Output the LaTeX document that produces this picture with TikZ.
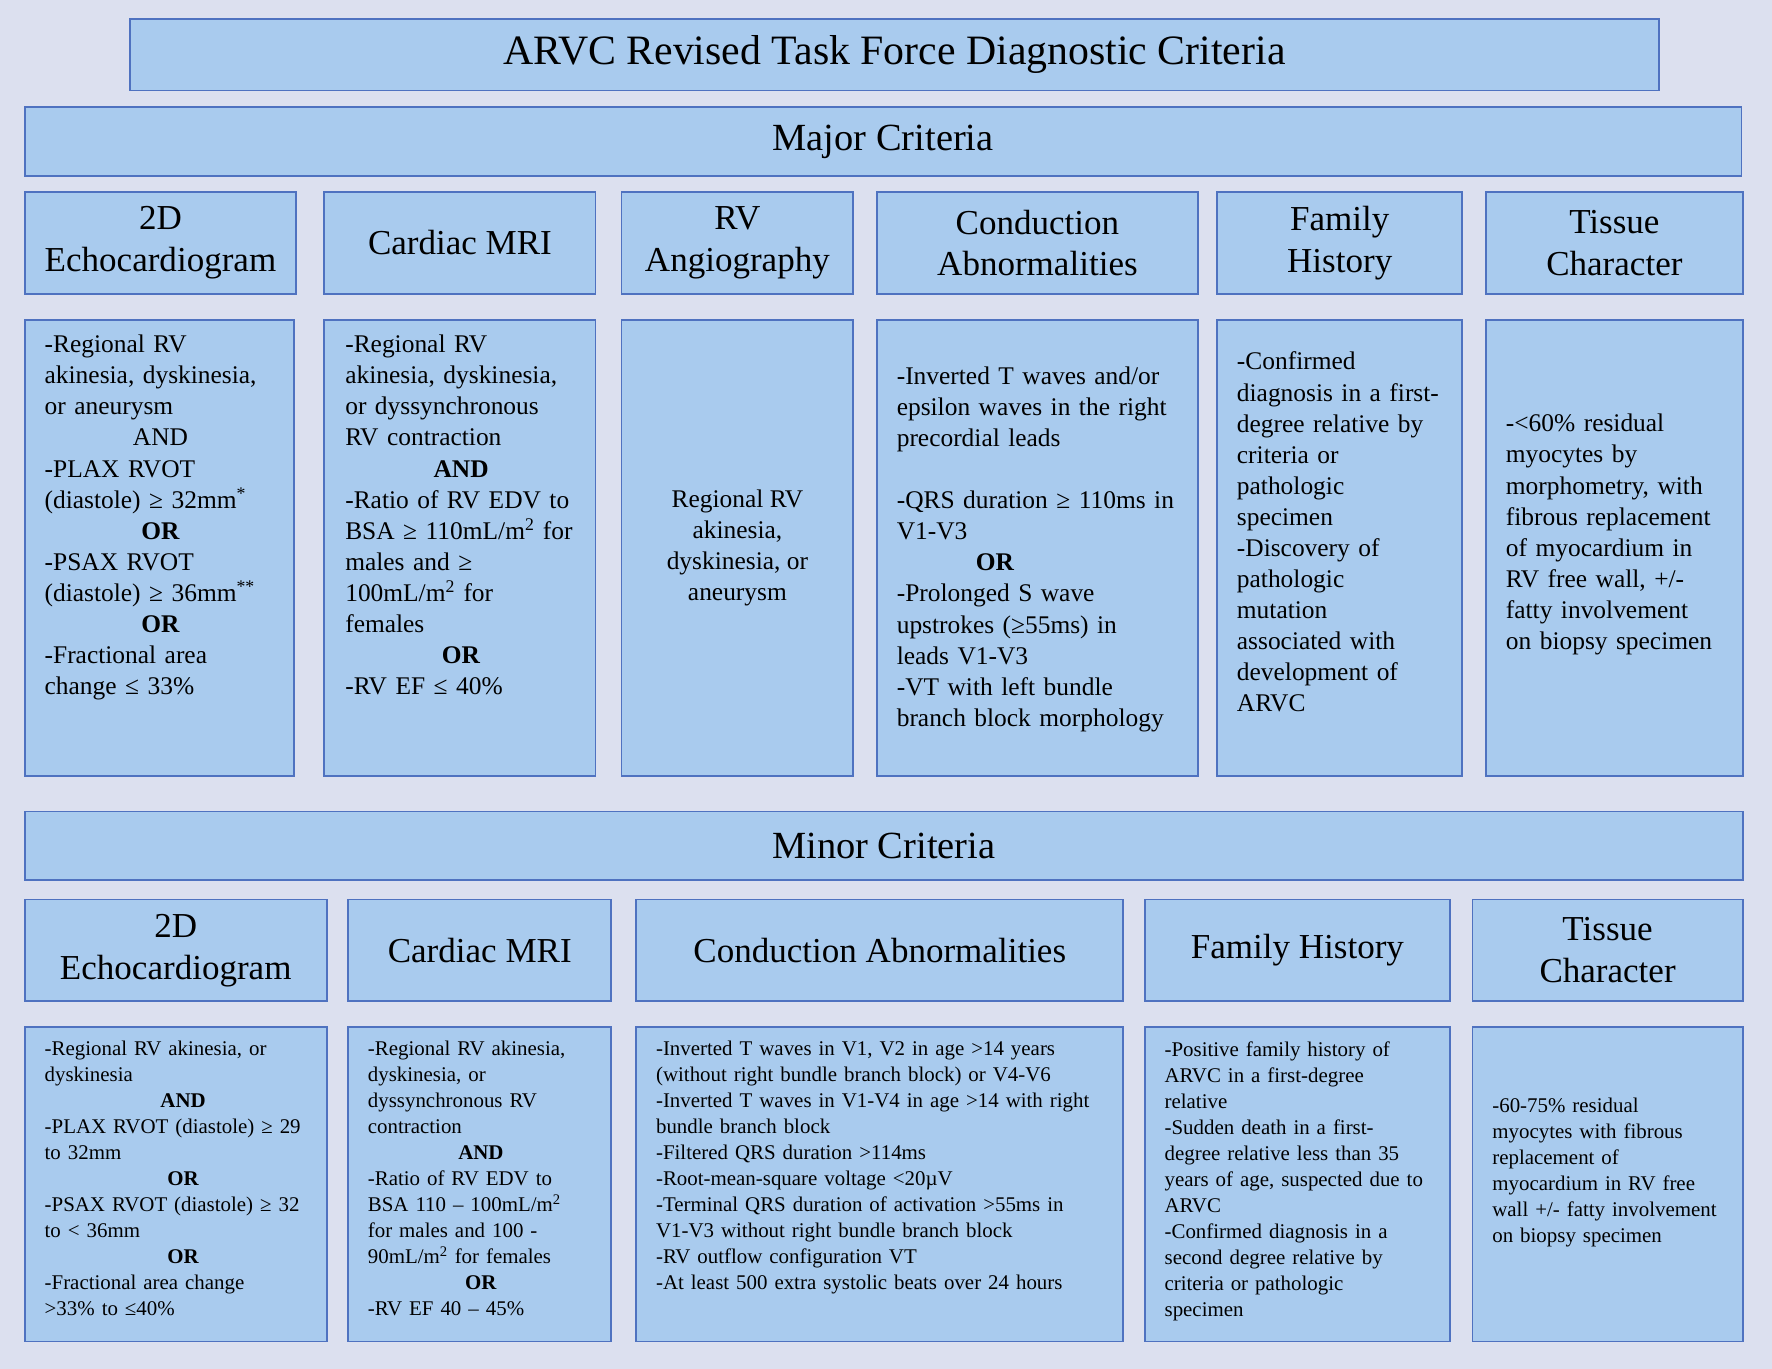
\documentclass[tikz,border=0pt]{standalone}
\usepackage{fontspec}
\setmainfont{Liberation Serif}
\definecolor{bgc}{HTML}{DCE0EF}
\definecolor{boxfill}{HTML}{A9CBEE}
\definecolor{boxdraw}{HTML}{4F72C0}
\newcommand\midline[1]{\hspace*{\fill}#1\hspace*{\fill}\null}
\tikzset{
  panel/.style={draw=boxdraw,fill=boxfill,line width=1.6pt,inner sep=0pt},
  headfont/.style={font=\fontsize{31}{37}\selectfont,align=center},
  bigtext/.style={font=\fontsize{22.5}{27.5}\selectfont,align=left,text width=300},
  smalltext/.style={font=\fontsize{18.5}{23}\selectfont,align=left,text width=450},
}
\begin{document}
\begin{tikzpicture}[x=1pt,y=-1pt]
\fill[bgc] (0,0) rectangle (1568,1211);
\useasboundingbox (0,0) rectangle (1568,1211);
%
\node[panel,minimum width=1353,minimum height=63,font=\fontsize{37}{40}\selectfont] (title) at (791.5,48.5) {ARVC Revised Task Force Diagnostic Criteria};
\node[panel,minimum width=1519,minimum height=61,font=\fontsize{34}{38}\selectfont] (major) at (781.5,125.5) {Major Criteria};
\node[panel,minimum width=1520,minimum height=61,font=\fontsize{34}{38}\selectfont] (minor) at (782,748.5) {Minor Criteria};
%
\node[panel,headfont,minimum width=240,minimum height=90] (mh1) at (142,215) {2D\\Echocardiogram};
\node[panel,headfont,minimum width=240,minimum height=90] (mh2) at (407,215) {Cardiac MRI};
\node[panel,headfont,minimum width=205,minimum height=90] (mh3) at (652.5,215) {RV\\Angiography};
\node[panel,headfont,minimum width=284,minimum height=90] (mh4) at (918,215) {Conduction\\Abnormalities};
\node[panel,headfont,minimum width=217,minimum height=90] (mh5) at (1185.5,215) {Family\\History};
\node[panel,headfont,minimum width=227,minimum height=90] (mh6) at (1428.5,215) {Tissue\\Character};
%
\node[panel,minimum width=238,minimum height=404] (mc1) at (141,485) {};
\node[bigtext,text width=205,anchor=north west] at (36,293) {-Regional RV\\akinesia, dyskinesia,\\or aneurysm\\\midline{AND}\\-PLAX RVOT\\(diastole) ≥ 32mm\textsuperscript{*}\\\midline{\textbf{OR}}\\-PSAX RVOT\\(diastole) ≥ 36mm\textsuperscript{**}\\\midline{\textbf{OR}}\\-Fractional area\\change ≤ 33\%};
\node[panel,minimum width=240,minimum height=404] (mc2) at (407,485) {};
\node[bigtext,text width=205,anchor=north west] at (302,293) {-Regional RV\\akinesia, dyskinesia,\\or dyssynchronous\\RV contraction\\\midline{\textbf{AND}}\\-Ratio of RV EDV to\\BSA ≥ 110mL/m\textsuperscript{2} for\\males and ≥\\100mL/m\textsuperscript{2} for\\females\\\midline{\textbf{OR}}\\-RV EF ≤ 40\%};
\node[panel,font=\fontsize{22.5}{27.5}\selectfont,align=center,minimum width=205,minimum height=404] (mc3) at (652.5,485) {Regional RV\\akinesia,\\dyskinesia, or\\aneurysm};
\node[panel,minimum width=284,minimum height=404] (mc4) at (918,485) {};
\node[bigtext,text width=255,anchor=north west] at (790,321) {-Inverted T waves and/or\\epsilon waves in the right\\precordial leads\\[27.5pt]-QRS duration ≥ 110ms in\\V1-V3\\\hspace*{70pt}\textbf{OR}\\-Prolonged S wave\\upstrokes (≥55ms) in\\leads V1-V3\\-VT with left bundle\\branch block morphology};
\node[panel,minimum width=217,minimum height=404] (mc5) at (1185.5,485) {};
\node[bigtext,text width=200,anchor=north west] at (1091,308) {-Confirmed\\diagnosis in a first-\\degree relative by\\criteria or\\pathologic\\specimen\\-Discovery of\\pathologic\\mutation\\associated with\\development of\\ARVC};
\node[panel,minimum width=227,minimum height=404] (mc6) at (1428.5,485) {};
\node[bigtext,text width=210,anchor=north west] at (1329,363) {-<60\% residual\\myocytes by\\morphometry, with\\fibrous replacement\\of myocardium in\\RV free wall, +/-\\fatty involvement\\on biopsy specimen};
%
\node[panel,headfont,minimum width=267,minimum height=90] (nh1) at (155.5,841) {2D\\Echocardiogram};
\node[panel,headfont,minimum width=233,minimum height=90] (nh2) at (424.5,841) {Cardiac MRI};
\node[panel,headfont,minimum width=431,minimum height=90] (nh3) at (778.5,841) {Conduction Abnormalities};
\node[panel,headfont,minimum width=270,minimum height=90] (nh4) at (1148,841) {Family History};
\node[panel,headfont,minimum width=239,minimum height=90] (nh5) at (1422.5,841) {Tissue\\Character};
%
\node[panel,minimum width=267,minimum height=278] (nc1) at (155.5,1048) {};
\node[smalltext,text width=245,anchor=north west] at (36,918) {-Regional RV akinesia, or\\dyskinesia\\\midline{\textbf{AND}}\\-PLAX RVOT (diastole) ≥ 29\\to 32mm\\\midline{\textbf{OR}}\\-PSAX RVOT (diastole) ≥ 32\\to < 36mm\\\midline{\textbf{OR}}\\-Fractional area change\\>33\% to ≤40\%};
\node[panel,minimum width=233,minimum height=278] (nc2) at (424.5,1048) {};
\node[smalltext,text width=200,anchor=north west] at (322,918) {-Regional RV akinesia,\\dyskinesia, or\\dyssynchronous RV\\contraction\\\midline{\textbf{AND}}\\-Ratio of RV EDV to\\BSA 110 – 100mL/m\textsuperscript{2}\\for males and 100 -\\90mL/m\textsuperscript{2} for females\\\midline{\textbf{OR}}\\-RV EF 40 – 45\%};
\node[panel,minimum width=431,minimum height=278] (nc3) at (778.5,1048) {};
\node[smalltext,text width=410,anchor=north west] at (577,918) {-Inverted T waves in V1, V2 in age >14 years\\(without right bundle branch block) or V4-V6\\-Inverted T waves in V1-V4 in age >14 with right\\bundle branch block\\-Filtered QRS duration >114ms\\-Root-mean-square voltage <20µV\\-Terminal QRS duration of activation >55ms in\\V1-V3 without right bundle branch block\\-RV outflow configuration VT\\-At least 500 extra systolic beats over 24 hours};
\node[panel,minimum width=270,minimum height=278] (nc4) at (1148,1048) {};
\node[smalltext,text width=250,anchor=north west] at (1027,918) {-Positive family history of\\ARVC in a first-degree\\relative\\-Sudden death in a first-\\degree relative less than 35\\years of age, suspected due to\\ARVC\\-Confirmed diagnosis in a\\second degree relative by\\criteria or pathologic\\specimen};
\node[panel,minimum width=239,minimum height=278] (nc5) at (1422.5,1048) {};
\node[smalltext,text width=220,anchor=north west] at (1317,968) {-60-75\% residual\\myocytes with fibrous\\replacement of\\myocardium in RV free\\wall +/- fatty involvement\\on biopsy specimen};
%
\end{tikzpicture}
\end{document}
